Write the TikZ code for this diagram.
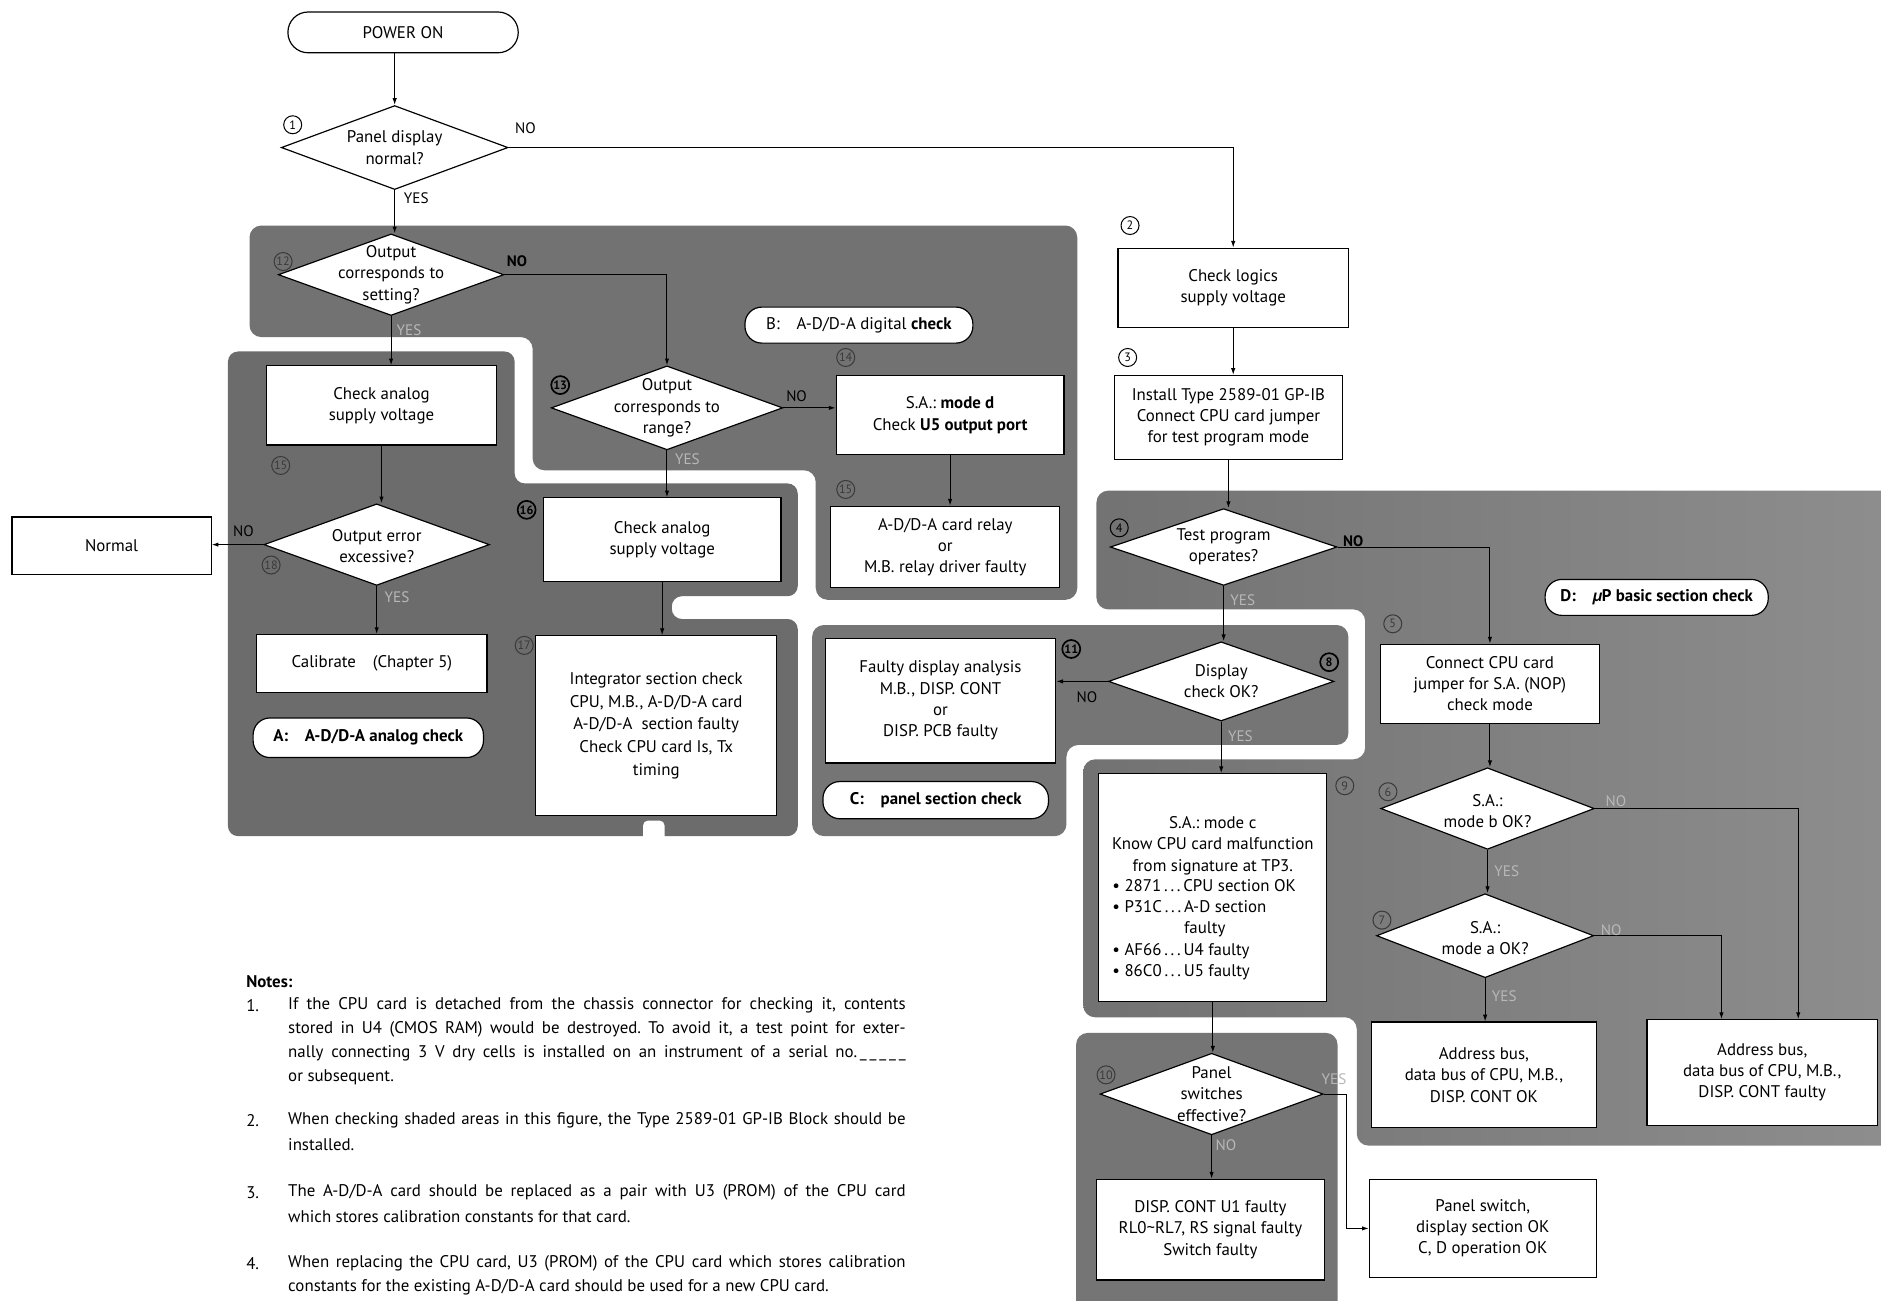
\documentclass[tikz,border=0pt]{standalone}
\usepackage{fontspec}
\setmainfont{PT Sans}
\usetikzlibrary{shapes.geometric,arrows.meta}
\definecolor{regA}{HTML}{6C6C6C}
\definecolor{regB}{HTML}{727272}
\definecolor{regC}{HTML}{757575}
\definecolor{regDl}{HTML}{727272}
\definecolor{regDr}{HTML}{8E8E8E}
\definecolor{lbl}{HTML}{B8B8B8}
\definecolor{cdark}{HTML}{3A3A3A}
\begin{document}
\frenchspacing
\begin{tikzpicture}[x=0.025cm,y=-0.025cm,
  every node/.style={font=\fontsize{10}{12.6}\selectfont, inner sep=0pt},
  bx/.style n args={2}{draw, fill=white, line width=0.7pt, rectangle, minimum width=#1*0.025cm, minimum height=#2*0.025cm, align=center},
  dia/.style n args={2}{draw, fill=white, line width=0.7pt, diamond, minimum width=#1*0.025cm, minimum height=#2*0.025cm},
  pill/.style n args={2}{draw, fill=white, line width=0.7pt, rectangle, rounded corners=10pt, minimum width=#1*0.025cm, minimum height=#2*0.025cm, align=center},
  dt/.style={align=center},
  arr/.style={line width=0.6pt, -{Latex[length=4pt,width=2.6pt]}},
  yn/.style={font=\fontsize{9}{10}\selectfont},
  ynl/.style={yn, text=lbl},
  cn/.style={circle, draw, line width=0.6pt, minimum size=15*0.025cm, inner sep=0pt, font=\fontsize{7.2}{7.2}\selectfont},
  cnd/.style={cn, draw=cdark, text=cdark},
  cnb/.style={cn, line width=1pt, font=\bfseries\fontsize{7.2}{7.2}\selectfont},
  notetxt/.style={anchor=west, font=\fontsize{10}{11}\selectfont},
]
\useasboundingbox (0,0) rectangle (1568,1084);
\begin{scope}
\clip (0,0) rectangle (1568,1084);
\fill[white] (0,0) rectangle (1568,1084);
% shaded regions
\fill[regB, rounded corners=7pt] (208,188) -- (898,188) -- (898,500) -- (680,500) -- (680,392) -- (444,392) -- (444,281) -- (208,281) -- cycle;
\fill[regA, rounded corners=6pt] (190,293) -- (429,293) -- (429,403) -- (665,403) -- (665,497) -- (560,497) -- (560,516) -- (665,516) -- (665,697) -- (190,697) -- cycle;
\fill[white, rounded corners=3pt] (536,684) rectangle (554,710);
\fill[regC, rounded corners=7pt] (677,521) -- (1124,521) -- (1124,621) -- (889,621) -- (889,697) -- (677,697) -- cycle;
\shade[left color=regDl, right color=regDr, rounded corners=7pt] (914,409) -- (1590,409) -- (1590,955) -- (1131,955) -- (1131,848) -- (903,848) -- (903,633) -- (1138,633) -- (1138,508) -- (914,508) -- cycle;
\fill[regC, rounded corners=7pt] (897,861) -- (1115,861) -- (1115,1110) -- (897,1110) -- cycle;
\end{scope}

% nodes
\node[pill={192}{34}, rounded corners=12pt] (pon) at (336,27) {POWER ON};
\node[dia={189}{70}] (d1) at (329,123) {};
\node[dt] (d1t) at (329,123) {Panel display\\normal?};
\node[dia={188}{68}] (d12) at (326,229) {};
\node[dt] (d12t) at (326,229) {Output\\corresponds to\\setting?};
\node[bx={192}{66}] (bA) at (318,338) {Check analog\\supply voltage};
\node[dia={188}{68}] (d18) at (314,454) {};
\node[dt] (d18t) at (314,455) {Output error\\excessive?};
\node[bx={166}{48}] (nrm) at (93,455) {Normal};
\node[bx={192}{48}] (cal) at (310,553) {Calibrate\quad(Chapter 5)};
\node[pill={192}{33}] (pA) at (307,615) {\bfseries A:\quad A-D/D-A analog check};

\node[dia={193}{70}] (d13) at (556,340) {};
\node[dt] (d13t) at (556,340) {Output\\corresponds to\\range?};
\node[bx={190}{66}] (b14) at (792,346) {S.A.: \textbf{mode d}\\Check \textbf{U5 output port}};
\node[bx={191}{68}] (b15) at (788,456) {A-D/D-A card relay\\or\\M.B. relay driver faulty};
\node[pill={190}{30}] (pB) at (716,271) {B:\quad A-D/D-A digital \textbf{check}};
\node[bx={198}{70}] (b16) at (552,450) {Check analog\\supply voltage};
\node[bx={201}{150}, font=\fontsize{10}{13.5}\selectfont] (b17) at (547,605) {Integrator section check\\CPU, M.B., A-D/D-A card\\A-D/D-A\ \ section faulty\\Check CPU card Is, Tx\\timing};

\node[bx={192}{66}] (b2) at (1028,240) {Check logics\\supply voltage};
\node[bx={190}{70}] (b3) at (1024,348) {Install Type 2589-01 GP-IB\\Connect CPU card jumper\\for test program mode};
\node[dia={189}{64}] (d4) at (1020,456) {};
\node[dt] (d4t) at (1020,456) {Test program\\operates?};
\node[dia={188}{66}] (d8) at (1018,568) {};
\node[dt] (d8t) at (1018,568) {Display\\check OK?};
\node[bx={192}{104}] (b11) at (784,584) {Faulty display analysis\\M.B., DISP. CONT\\or\\DISP. PCB faulty};
\node[pill={188}{31}] (pC) at (780,667) {\bfseries C:\quad panel section check};
\node[bx={190}{190}] (b9) at (1011,740) {};
\node[dt] (b9a) at (1011,705) {S.A.: mode c\\Know CPU card malfunction\\from signature at TP3.};
\node[anchor=west, align=left] (b9b) at (927,775) {\textbullet\ 2871\,.\,.\,.\,CPU section OK\\\textbullet\ P31C\,.\,.\,.\,A-D section\\\phantom{\textbullet\ P31C\,.\,.\,.\,}faulty\\\textbullet\ AF66\,.\,.\,.\,U4 faulty\\\textbullet\ 86C0\,.\,.\,.\,U5 faulty};
\node[dia={186}{68}] (d10) at (1010,912) {};
\node[dt] (d10t) at (1010,912) {Panel\\switches\\effective?};
\node[bx={190}{84}] (bU1) at (1009,1025) {DISP. CONT U1 faulty\\RL0\textasciitilde RL7, RS signal faulty\\Switch faulty};
\node[bx={189}{82}] (bPS) at (1236,1024) {Panel switch,\\display section OK\\C, D operation OK};
\node[bx={183}{66}] (b5) at (1242,570) {Connect CPU card\\jumper for S.A. (NOP)\\check mode};
\node[pill={186}{30}] (pD) at (1381,498) {\bfseries D:\quad{\itshape µ}P basic section check};
\node[dia={178}{68}] (d6) at (1240,674) {};
\node[dt] (d6t) at (1240,676) {S.A.:\\mode b OK?};
\node[dia={181}{70}] (d7) at (1238,780) {};
\node[dt] (d7t) at (1238,782) {S.A.:\\mode a OK?};
\node[bx={187}{88}] (aOK) at (1237,896) {Address bus,\\data bus of CPU, M.B.,\\DISP. CONT OK};
\node[bx={192}{88}] (aF) at (1469,894) {Address bus,\\data bus of CPU, M.B.,\\DISP. CONT faulty};

% connectors
\draw[arr] (pon.south -| d1.north) -- (d1.north);
\draw[arr] (d1.south) -- (d1.south |- d12.north);
\draw[arr] (d1.east) -| (b2.north);
\draw[arr] (b2.south) -- (b2.south |- b3.north);
\draw[arr] (b3.south) -- (b3.south |- d4.north);
\draw[arr] (d4.south) -- (d4.south |- d8.north);
\draw[arr] (d4.east) -| (b5.north);
\draw[arr] (d8.west) -- (b11.east |- d8.west);
\draw[arr] (d8.south) -- (d8.south |- b9.north);
\draw[arr] (b9.south) -- (b9.south |- d10.north);
\draw[arr] (d10.south) -- (d10.south |- bU1.north);
\draw[arr] (d10.east) -- ++(19,0) |- (bPS.west);
\draw[arr] (b5.south) -- (b5.south |- d6.north);
\draw[arr] (d6.south) -- (d6.south |- d7.north);
\draw[arr] (d7.south) -- (d7.south |- aOK.north);
\draw[arr] (d6.east) -| ([xshift=0.75cm]aF.north);
\draw[arr] (d7.east) -| ([xshift=-0.85cm]aF.north);
\draw[arr] (d12.south) -- (d12.south |- bA.north);
\draw[arr] (d12.east) -| (d13.north);
\draw[arr] (d13.east) -- (b14.west |- d13.east);
\draw[arr] (d13.south) -- (d13.south |- b16.north);
\draw[arr] (b14.south) -- (b14.south |- b15.north);
\draw[arr] (b16.south) -- (b16.south |- b17.north);
\draw[arr] (bA.south) -- (bA.south |- d18.north);
\draw[arr] (d18.west) -- (nrm.east |- d18.west);
\draw[arr] (d18.south) -- (d18.south |- cal.north);

% labels
\node[cn] (c1) at (244,104) {1};
\node[yn] (no1) at (438,107) {NO};
\node[yn] (yes1) at (347,165) {YES};
\node[cn] (c2) at (942,188) {2};
\node[cn] (c3) at (940,298) {3};
\node[cnd] (c12) at (236,218) {12};
\node[yn] (no12) at (431,218) {\bfseries NO};
\node[ynl] (yes12) at (341,275) {YES};
\node[cnd] (c15a) at (234,388) {15};
\node[yn] (no18) at (203,443) {NO};
\node[cnd] (c18) at (226,471) {18};
\node[ynl] (yes18) at (331,498) {YES};
\node[cnb] (c13) at (467,321) {13};
\node[yn] (no13) at (664,330) {NO};
\node[ynl] (yes13) at (573,383) {YES};
\node[cnd] (c14) at (705,298) {14};
\node[cnd] (c15) at (705,408) {15};
\node[cnb] (c16) at (439,425) {16};
\node[cnd] (c17) at (437,538) {17};
\node[cn] (c4) at (933,440) {4};
\node[yn] (no4) at (1128,451) {\bfseries NO};
\node[ynl] (yes4) at (1036,500) {YES};
\node[cnb] (c11) at (893,541) {11};
\node[cnb] (c8) at (1108,552) {8};
\node[yn] (no8) at (906,581) {NO};
\node[ynl] (yes8) at (1034,614) {YES};
\node[cnd] (c9) at (1121,655) {9};
\node[cnd] (c10) at (922,896) {10};
\node[ynl] (yes10) at (1112,900) {YES};
\node[ynl] (no10) at (1022,955) {NO};
\node[cnd] (c5) at (1161,520) {5};
\node[cnd] (c6) at (1157,660) {6};
\node[ynl] (no6) at (1347,668) {NO};
\node[ynl] (yes6) at (1256,726) {YES};
\node[cnd] (c7) at (1152,767) {7};
\node[ynl] (no7) at (1343,775) {NO};
\node[ynl] (yes7) at (1254,830) {YES};

% notes
\node[notetxt, font=\bfseries\fontsize{10}{11}\selectfont] (nt) at (205,818) {Notes:};
\node[notetxt] (n1) at (205,838) {1.};
\node[notetxt] (n1a) at (240,838) {\makebox[366pt][s]{If the CPU card is detached from the chassis connector for checking it, contents}};
\node[notetxt] (n1b) at (240,858) {\makebox[366pt][s]{stored in U4 (CMOS RAM) would be destroyed. To avoid it, a test point for exter-}};
\node[notetxt] (n1c) at (240,878) {\makebox[366pt][s]{nally connecting 3 V dry cells is installed on an instrument of a serial no.\,\_\,\_\,\_\,\_\,\_}};
\node[notetxt] (n1d) at (240,898) {or subsequent.};
\node[notetxt] (n2) at (205,934) {2.};
\node[notetxt] (n2a) at (240,934) {\makebox[366pt][s]{When checking shaded areas in this figure, the Type 2589-01 GP-IB Block should be}};
\node[notetxt] (n2b) at (240,954) {installed.};
\node[notetxt] (n3) at (205,994) {3.};
\node[notetxt] (n3a) at (240,994) {\makebox[366pt][s]{The A-D/D-A card should be replaced as a pair with U3 (PROM) of the CPU card}};
\node[notetxt] (n3b) at (240,1014) {which stores calibration constants for that card.};
\node[notetxt] (n4) at (205,1053) {4.};
\node[notetxt] (n4a) at (240,1053) {\makebox[366pt][s]{When replacing the CPU card, U3 (PROM) of the CPU card which stores calibration}};
\node[notetxt] (n4b) at (240,1073) {constants for the existing A-D/D-A card should be used for a new CPU card.};
\end{tikzpicture}
\end{document}
